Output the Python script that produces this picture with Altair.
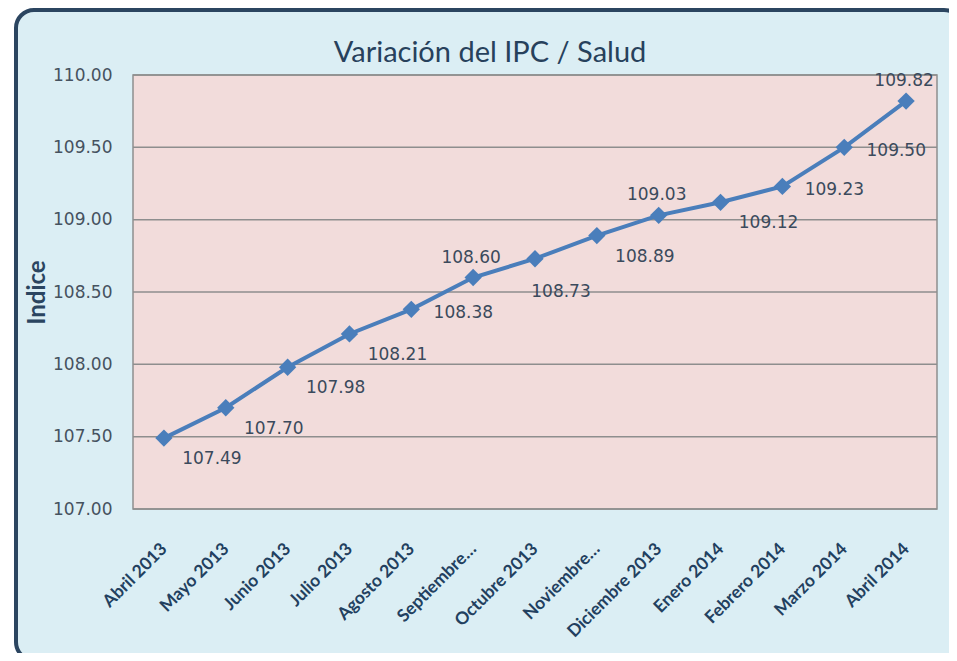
import altair as alt
import pandas as pd

# ---- data ----
months = ["Abril 2013", "Mayo 2013", "Junio 2013", "Julio 2013", "Agosto 2013",
          "Septiembre…", "Octubre 2013", "Noviembre…", "Diciembre 2013",
          "Enero 2014", "Febrero 2014", "Marzo 2014", "Abril 2014"]
values = [107.49, 107.70, 107.98, 108.21, 108.38, 108.60, 108.73, 108.89,
          109.03, 109.12, 109.23, 109.50, 109.82]
# data-label placement as set in the original (br=below right, r=right, a=above, b=below)
placement = ["br", "br", "br", "br", "r", "a", "b", "br", "a", "br", "r", "r", "a"]
y_ticks = [107.0, 107.5, 108.0, 108.5, 109.0, 109.5, 110.0]

df = pd.DataFrame({"month": months, "value": values, "place": placement})
ticks_df = pd.DataFrame({"tick": y_ticks})

W, H = 804, 434
BLUE = "#4A7EBB"
BG = "#DBEEF4"
PINK = "#F2DCDB"
GRID = "#8E8E8E"
BORDER = "#2B4560"
LABEL = "#3B4A5C"
XLAB = "#22405F"

xenc = alt.X("month:N", sort=months,
             scale=alt.Scale(type="point", domain=months, padding=0.5),
             axis=alt.Axis(title=None, labelAngle=-45, labelAlign="right",
                           labelBaseline="middle", labelFont="Lato",
                           labelFontWeight="bold", labelFontSize=17.5,
                           labelColor=XLAB, labelPadding=37, ticks=False,
                           tickSize=0, domain=False, grid=False, zindex=1,
                           labelOverlap=False, labelLimit=300))
yscale = alt.Scale(domain=[107, 110], nice=False, zero=False)
yaxis = alt.Axis(values=y_ticks, format=".2f", grid=False, ticks=False,
                 tickSize=0, domain=False, labelFont="DejaVu Sans",
                 labelFontSize=17, labelColor="#46525F", labelPadding=21,
                 title="Indice", titleFont="Lato", titleFontSize=24,
                 titleFontWeight="bold", titleColor=BORDER,
                 titleAngle=-90, titleX=-96, titleY=H / 2,
                 titleAlign="center", titleBaseline="middle", zindex=1)
yenc = alt.Y("value:Q", scale=yscale, axis=yaxis)

frame = alt.Chart(alt.Data(values=[{}])).mark_rect(
    fill=BG, stroke=BORDER, strokeWidth=4, cornerRadius=18
).encode(x=alt.value(-117), x2=alt.value(829), y=alt.value(-65), y2=alt.value(585))

plotbg = alt.Chart(alt.Data(values=[{}])).mark_rect(
    fill=PINK, stroke=GRID, strokeWidth=1.5
).encode(x=alt.value(0), x2=alt.value(W), y=alt.value(0), y2=alt.value(H))

grid = alt.Chart(ticks_df).mark_rule(color=GRID, strokeWidth=1.5).encode(
    y=alt.Y("tick:Q", scale=yscale, axis=yaxis)
)

line = alt.Chart(df).mark_line(color=BLUE, strokeWidth=4).encode(x=xenc, y=yenc)
pts = alt.Chart(df).mark_point(shape="diamond", filled=True, size=300,
                               color=BLUE, opacity=1).encode(x=xenc, y=yenc)

offsets = {"br": (48, 21), "r": (52, 4), "a": (-2, -20), "b": (26, 33)}
texts = []
for key, (dx, dy) in offsets.items():
    texts.append(
        alt.Chart(df).transform_filter(alt.datum.place == key)
        .mark_text(dx=dx, dy=dy, font="DejaVu Sans", fontSize=17, color=LABEL,
                   align="center", baseline="middle")
        .encode(x=xenc, y=yenc, text=alt.Text("value:Q", format=".2f"))
    )

chart = alt.layer(frame, plotbg, grid, line, pts, *texts).properties(
    width=W, height=H,
    title=alt.Title("Variación del IPC / Salud", font="Lato", fontSize=29,
                    fontWeight="normal", color="#27415C", anchor="middle",
                    dx=-45, offset=-60, zindex=1),
    autosize=alt.AutoSizeParams(type="none"),
    padding={"left": 125, "top": 67, "right": 12, "bottom": 144},
).configure(background="white").configure_view(stroke=None)

chart.save("out.html", embed_options={"renderer": "svg", "actions": False})
